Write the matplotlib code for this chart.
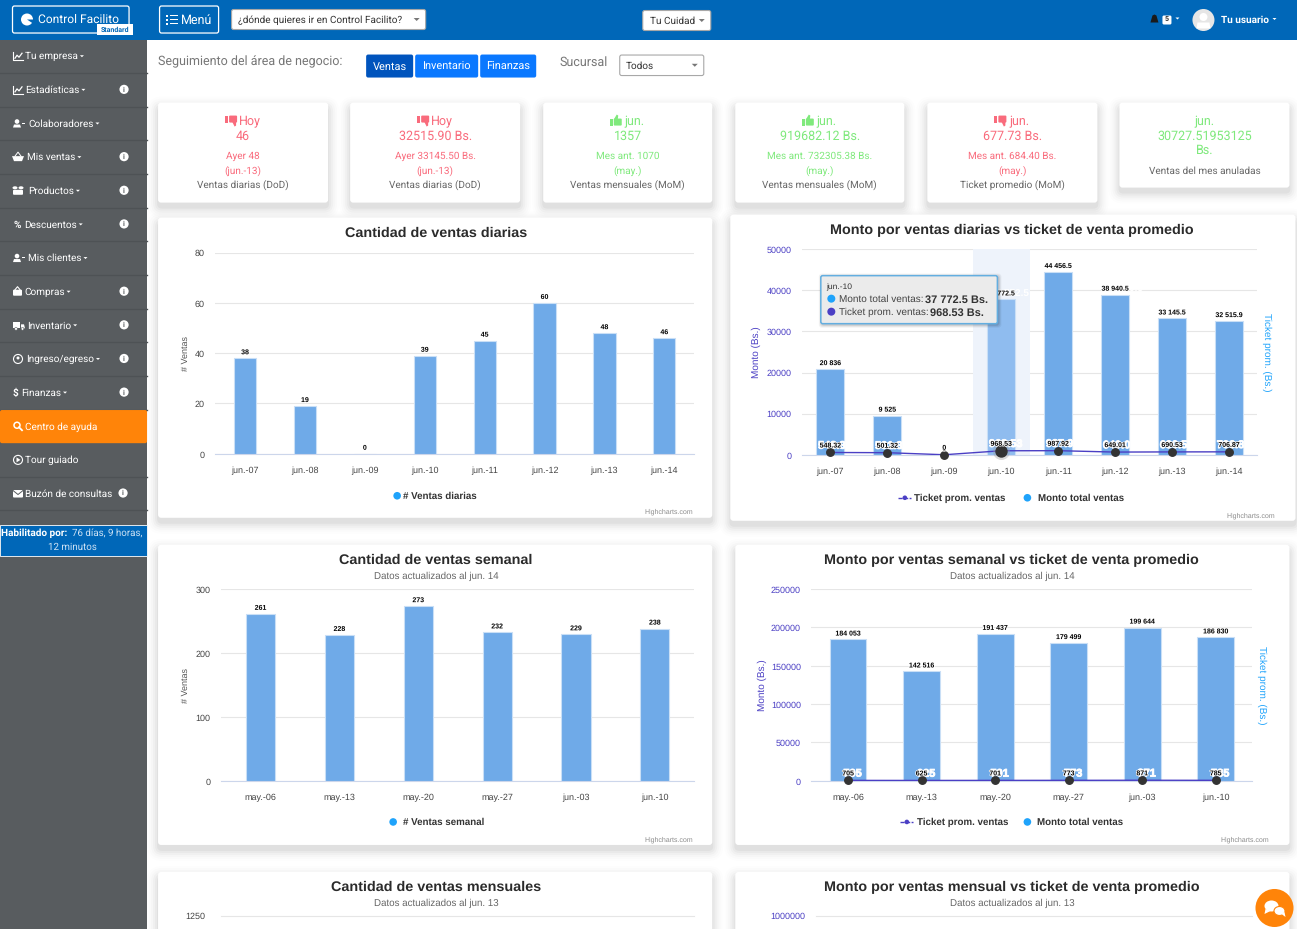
#! /usr/bin/env python3
#
# Sales dashboard screenshot rebuilt with matplotlib.
# Everything is placed in screen pixels: one overlay axes for the page,
# real axes for the charts.

import matplotlib
matplotlib.use('agg')
import matplotlib.pyplot as plt
import matplotlib.patheffects as pe
from matplotlib.patches import Rectangle, FancyBboxPatch, Circle, Polygon, Ellipse

W, H = 1297, 929

###########
## Data  ##
###########

days = ['jun.-07', 'jun.-08', 'jun.-09', 'jun.-10', 'jun.-11', 'jun.-12', 'jun.-13', 'jun.-14']
daily_count = [38, 19, 0, 39, 45, 60, 48, 46]
daily_amount = [20836, 9525, 0, 37772.5, 44456.5, 38940.5, 33145.5, 32515.9]
daily_ticket = [548.32, 501.32, 0, 968.53, 987.92, 649.01, 690.53, 706.87]

weeks = ['may.-06', 'may.-13', 'may.-20', 'may.-27', 'jun.-03', 'jun.-10']
weekly_count = [261, 228, 273, 232, 229, 238]
weekly_amount = [184053, 142516, 191437, 179499, 199644, 186830]
weekly_ticket = [705, 625, 701, 773, 871, 785]

menu_items = ['Tu empresa', 'Estadísticas', 'Colaboradores', 'Mis ventas', 'Productos', 'Descuentos',
              'Mis clientes', 'Compras', 'Inventario', 'Ingreso/egreso', 'Finanzas',
              'Centro de ayuda', 'Tour guiado', 'Buzón de consultas']
menu_info = [False, True, False, True, True, True, False, True, True, True, True, False, False, True]
menu_text_x = [25, 25, 28, 27, 28, 24, 28, 24, 27, 26, 21, 25, 25, 25]

kpi_heads = ['Hoy', 'Hoy', 'jun.', 'jun.', 'jun.', 'jun.']
kpi_values = ['46', '32515.90 Bs.', '1357', '919682.12 Bs.', '677.73 Bs.', '30727.51953125']
kpi_prev = ['Ayer 48', 'Ayer 33145.50 Bs.', 'Mes ant. 1070', 'Mes ant. 732305.38 Bs.', 'Mes ant. 684.40 Bs.', '']
kpi_when = ['(jun.-13)', '(jun.-13)', '(may.)', '(may.)', '(may.)', '']
kpi_names = ['Ventas diarias (DoD)', 'Ventas diarias (DoD)', 'Ventas mensuales (MoM)',
             'Ventas mensuales (MoM)', 'Ticket promedio (MoM)', 'Ventas del mes anuladas']
kpi_good = [False, False, True, True, False, None]

##############
## Settings ##
##############

BLUE_TOP = '#0067B8'
SIDE = '#585C5F'
SIDE_LINE = '#4E5255'
ORANGE = '#FF8409'
RED = '#F96B7C'
GREEN = '#7FE97C'
BAR = '#6FAAE8'
BAR_EDGE = '#C9DFF6'
PURPLE = '#4B3FC4'
LIGHTBLUE = '#1FA3FB'
UI = 'Roboto'
HC = 'Liberation Sans'

plt.rcParams['font.family'] = [HC, 'DejaVu Sans']
plt.rcParams['text.hinting'] = 'no_hinting'
plt.rcParams['text.hinting_factor'] = 8

# the extra half pixel stops the height being rounded down to 928
fig = plt.figure(figsize=((W + 0.5) / 100, (H + 0.5) / 100), dpi=100, facecolor='white')


def px(size):
    # css pixels to points
    return size * 72.0 / 100.0


def overlay(z):
    a = fig.add_axes([0, 0, 1, 1], zorder=z)
    a.set_xlim(0, W)
    a.set_ylim(H, 0)
    a.axis('off')
    a.patch.set_alpha(0)
    return a


page = overlay(0)
top = overlay(10)


def rect(a, x0, y0, x1, y1, fc, ec='none', lw=0, z=2):
    a.add_patch(Rectangle((x0, y0), x1 - x0, y1 - y0, fc=fc, ec=ec, lw=lw, zorder=z))


def rrect(a, x0, y0, x1, y1, fc, ec='none', lw=0, r=3, z=2):
    a.add_patch(FancyBboxPatch((x0 + r, y0 + r), x1 - x0 - 2 * r, y1 - y0 - 2 * r,
                               boxstyle='round,pad=%g,rounding_size=%g' % (r, r),
                               fc=fc, ec=ec, lw=lw, zorder=z))


def label(a, x, y, s, size, color='#333333', ha='left', weight='normal', family=UI, z=6, **kw):
    return a.text(x, y, s, fontsize=px(size), color=color, ha=ha, va='center', weight=weight,
                  family=[family, 'DejaVu Sans'], zorder=z, **kw)


def card(a, x0, y0, x1, y1):
    # soft drop shadow, then the white card
    for grow, alpha in ((11, 0.008), (9, 0.012), (7, 0.016), (5, 0.022), (3, 0.028), (1, 0.036)):
        rrect(a, x0 - grow, y0 + 5 - grow, x1 + grow, y1 + 5 + grow, (0, 0, 0, alpha), r=4 + grow, z=1)
    rrect(a, x0, y0, x1, y1, 'white', r=3, z=2)


def select(a, x0, y0, x1, y1, s, size=10, pad=6.5):
    rrect(a, x0, y0, x1, y1, 'white', ec='#A8A8A8', lw=0.8, r=2, z=3)
    label(a, x0 + pad, (y0 + y1) / 2 + 0.5, s, size, '#333333')
    a.add_patch(Polygon([(x1 - 12, (y0 + y1) / 2 - 1.5), (x1 - 6, (y0 + y1) / 2 - 1.5), (x1 - 9, (y0 + y1) / 2 + 1.5)],
                        fc='#777777', zorder=6))


def caret(a, x, y, color='white'):
    a.add_patch(Polygon([(x, y - 1), (x + 4, y - 1), (x + 2, y + 1)], fc=color, zorder=6))


def thumb(a, x, y, up, color):
    # small hand icon centred near x, y
    if up:
        rect(a, x - 6, y - 2, x - 3, y + 5, color, z=6)
        rrect(a, x - 2, y - 2, x + 6, y + 5, color, r=1, z=6)
        a.add_patch(Polygon([(x - 2, y - 1), (x + 1, y - 6), (x + 2.5, y - 5), (x + 2, y - 1)], fc=color, zorder=6))
    else:
        rect(a, x - 6, y - 5, x - 3, y + 2, color, z=6)
        rrect(a, x - 2, y - 5, x + 6, y + 2, color, r=1, z=6)
        a.add_patch(Polygon([(x + 1, y + 1), (x + 3.5, y + 6), (x + 5, y + 5), (x + 5, y + 1)], fc=color, zorder=6))


def menu_icon(a, idx, x, y):
    # crude white glyphs for the sidebar, 10 px wide
    w = 'white'
    if idx in (0, 1):
        a.plot([x, x, x + 10], [y - 4, y + 4, y + 4], color=w, lw=0.8, zorder=6)
        a.plot([x + 2, x + 4, x + 6, x + 9], [y + 2, y - 1, y + 1, y - 3], color=w, lw=0.9, zorder=6)
    elif idx in (2, 6):
        a.add_patch(Circle((x + 4, y - 2), 2.3, fc=w, zorder=6))
        a.add_patch(Polygon([(x, y + 4), (x + 1, y + 1), (x + 7, y + 1), (x + 8, y + 4)], fc=w, zorder=6))
        rect(a, x + 9, y - 1, x + 12, y + 0, w, z=6)
    elif idx == 3:
        a.add_patch(Polygon([(x - 1, y - 1), (x + 11, y - 1), (x + 9, y + 4), (x + 1, y + 4)], fc=w, zorder=6))
        a.plot([x + 2, x + 5, x + 8], [y - 1, y - 5, y - 1], color=w, lw=0.7, zorder=6)
    elif idx == 4:
        rrect(a, x, y - 1, x + 10, y + 4, w, r=1, z=6)
        a.add_patch(Ellipse((x + 2, y - 3), 5, 3, fc=w, zorder=6))
        a.add_patch(Ellipse((x + 8, y - 3), 5, 3, fc=w, zorder=6))
    elif idx == 5:
        label(a, x + 4, y, '%', 10, w, ha='center', weight='bold')
    elif idx == 7:
        rrect(a, x, y - 2, x + 9, y + 4, w, r=1, z=6)
        a.plot([x + 2, x + 4.5, x + 7], [y - 2, y - 5, y - 2], color=w, lw=0.8, zorder=6)
    elif idx == 8:
        rect(a, x, y - 3, x + 7, y + 3, w, z=6)
        a.add_patch(Polygon([(x + 8, y - 1), (x + 11, y - 1), (x + 12, y + 3), (x + 8, y + 3)], fc=w, zorder=6))
        a.add_patch(Circle((x + 3, y + 3.5), 1.4, fc=w, ec=SIDE, lw=0.4, zorder=7))
        a.add_patch(Circle((x + 9.5, y + 3.5), 1.4, fc=w, ec=SIDE, lw=0.4, zorder=7))
    elif idx == 10:
        label(a, x + 2, y, '$', 10, w, ha='center', weight='bold')
    elif idx == 11:
        a.add_patch(Circle((x + 4, y - 1), 3, fc='none', ec=w, lw=1.1, zorder=6))
        a.plot([x + 6, x + 9], [y + 1, y + 4], color=w, lw=1.3, zorder=6)
    elif idx in (9, 12):
        a.add_patch(Circle((x + 5, y), 4.5, fc='none', ec=w, lw=0.8, zorder=6))
        if idx == 12:
            a.add_patch(Polygon([(x + 3.5, y - 2.5), (x + 3.5, y + 2.5), (x + 7.5, y)], fc=w, zorder=6))
        else:
            a.add_patch(Circle((x + 5, y - 1), 1.5, fc=w, zorder=6))
    else:
        rrect(a, x, y - 3.5, x + 10, y + 4, w, r=1, z=6)
        a.plot([x, x + 5, x + 10], [y - 3, y + 1, y - 3], color=SIDE, lw=0.7, zorder=7)


def text_right(t):
    # right edge of a text in page pixels
    bb = t.get_window_extent(fig.canvas.get_renderer())
    return bb.x1 * W / fig.bbox.width


##########
## Page ##
##########

# top bar
rect(page, 0, 0, W, 40, BLUE_TOP)
rrect(page, 12.5, 6.5, 129, 33.5, 'none', ec='white', lw=0.9, r=2, z=3)
page.add_patch(Circle((27, 20), 6, fc='white', zorder=4))
page.add_patch(Polygon([(27, 20), (34, 20), (33, 24)], fc=BLUE_TOP, zorder=5))
label(page, 38, 20, 'Control Facilito', 12, 'white')
rect(page, 97, 24, 133, 35, 'white', z=5)
label(page, 115, 30, 'Standard', 7, BLUE_TOP, ha='center', weight='bold', z=7)
rrect(page, 159.5, 6.5, 218.5, 33.5, 'none', ec='white', lw=0.9, r=2, z=3)
for yy in (16, 20, 24):
    rect(page, 166, yy - 1, 168, yy + 1, 'white', z=5)
    rect(page, 170, yy - 0.7, 178, yy + 0.7, 'white', z=5)
label(page, 181, 20, 'Menú', 12.5, 'white')
select(page, 231.5, 10, 425.5, 30, '¿dónde quieres ir en Control Facilito?')
select(page, 642.5, 11, 710.5, 31, 'Tu Cuidad', pad=7.5)
page.add_patch(Polygon([(1150, 23), (1152, 16), (1154, 15), (1156, 16), (1158, 23)], fc='#1A1A1A', zorder=5))
rrect(page, 1162, 16, 1171, 25, 'white', r=1.5, z=5)
label(page, 1166.5, 20.5, '5', 7, '#333333', ha='center', weight='bold')
caret(page, 1175, 19)
page.add_patch(Circle((1203, 20.5), 11, fc='#E6E6E6', zorder=4))
page.add_patch(Circle((1203, 17.5), 4, fc='white', zorder=5))
page.add_patch(Polygon([(1196, 29), (1197, 23), (1209, 23), (1210, 29)], fc='white', zorder=5))
label(page, 1221, 20, 'Tu usuario', 10, 'white', weight='bold')
caret(page, 1272, 19.5)

# sidebar
rect(page, 0, 40, 147, H + 1, SIDE)
row_h = 33.62
for i, name in enumerate(menu_items):
    y0 = 40 + i * row_h
    yc = y0 + 16.7
    if i == 11:
        rrect(page, 0, y0 + 0.5, 147, y0 + row_h, ORANGE, r=2, z=3)
    else:
        page.plot([0, 147], [y0 + row_h, y0 + row_h], color=SIDE_LINE, lw=1, zorder=3)
    menu_icon(page, i, 13, yc)
    t = label(page, menu_text_x[i], yc, name, 10, 'white')
    if i < 11:
        caret(page, text_right(t) + 2, yc)
    if menu_info[i]:
        ix = 123 if i == 13 else 124
        page.add_patch(Circle((ix, yc - 0.5), 4.6, fc='white', zorder=6))
        label(page, ix, yc - 0.5, 'i', 7, SIDE, ha='center', weight='bold', z=7)
rect(page, 0, 525, 147, 556, BLUE_TOP, ec='white', lw=0.6, z=3)
label(page, 1, 533, 'Habilitado por:', 10, 'white', weight='bold')
label(page, 72, 533, '76 días, 9 horas,', 9.8, '#CFE3F5')
label(page, 72, 547, '12 minutos', 9.8, '#CFE3F5', ha='center')

# filter row
label(page, 158, 62, 'Seguimiento del área de negocio:', 12.5, '#777777')
for x0, x1, s, c in ((366, 413, 'Ventas', '#0054BD'), (415, 478, 'Inventario', '#0A78FF'), (480, 536, 'Finanzas', '#0A78FF')):
    rrect(page, x0, 55, x1, 78, c, r=2, z=3)
    label(page, (x0 + x1) / 2, 66.5, s, 11, 'white', ha='center')
label(page, 559, 62, 'Sucursal', 12.5, '#777777')
select(page, 619.5, 55.5, 703.5, 76, 'Todos')

# kpi cards
kpi_x = [(158, 328), (350, 520), (543, 712), (735, 904), (927, 1097), (1119, 1289)]
for i, (x0, x1) in enumerate(kpi_x):
    good = kpi_good[i]
    col = GREEN if good in (True, None) else RED
    xc = (x0 + x1) / 2
    y1 = 188 if good is None else 203
    card(page, x0, 103, x1, y1)
    if good is None:
        label(page, xc, 122, kpi_heads[i], 12.5, col, ha='center')
        label(page, xc, 136, kpi_values[i], 12.5, col, ha='center')
        label(page, xc, 150, 'Bs.', 12.5, col, ha='center')
        label(page, xc, 171, kpi_names[i], 10, '#666666', ha='center')
        continue
    label(page, xc + 7, 122, kpi_heads[i], 12.5, col, ha='center')
    thumb(page, xc - 12, 121, good, col)
    label(page, xc, 136, kpi_values[i], 12.5, col, ha='center')
    label(page, xc, 156, kpi_prev[i], 10, col, ha='center')
    label(page, xc, 171, kpi_when[i], 10, col, ha='center')
    label(page, xc, 185, kpi_names[i], 10, '#666666', ha='center')

# chart cards
card(page, 158, 218, 712, 518)
card(page, 730, 215, 1295, 521)
card(page, 158, 545, 712, 845)
card(page, 735, 545, 1289, 845)
card(page, 158, 872, 712, 960)
card(page, 735, 872, 1289, 960)

############
## Charts ##
############


def fmt(v):
    return '{:,.10g}'.format(v).replace(',', ' ')


def chart_axes(left, right, ytop, ybottom, ymax, yticks, cats, tick_color='#444444'):
    a = fig.add_axes([left / W, 1 - ybottom / H, (right - left) / W, (ybottom - ytop) / H], zorder=5)
    a.patch.set_alpha(0)
    a.set_xlim(-0.5, len(cats) - 0.5)
    a.set_ylim(0, ymax)
    a.set_xticks(range(len(cats)), cats)
    a.set_yticks(yticks)
    a.tick_params(axis='both', length=0)
    a.tick_params(axis='x', labelsize=px(9), labelcolor='#444444', pad=px(12))
    a.tick_params(axis='y', labelsize=px(9), labelcolor=tick_color, pad=px(10.5))
    a.grid(axis='y', color='#E6E6E6', lw=0.8)
    a.set_axisbelow(True)
    for k in ('top', 'left', 'right'):
        a.spines[k].set_visible(False)
    a.spines['bottom'].set_color('#CCD6EB')
    return a


def bars(a, values, width, highlight=None):
    bs = a.bar(range(len(values)), values, width=width, color=BAR, edgecolor=BAR_EDGE, linewidth=0.8, zorder=3)
    if highlight is not None:
        bs[highlight].set_facecolor('#8FBCEF')
    return bs


def bar_labels(a, values, dy=2.5, ghost=0, size=7):
    for i, v in enumerate(values):
        if ghost:
            a.annotate(fmt(v), (i, v), xytext=(px(ghost), px(dy - 1.2)), textcoords='offset points', ha='center', va='bottom',
                       fontsize=px(10), weight='bold', color='white', zorder=4)
        a.annotate(fmt(v), (i, v), xytext=(0, px(dy)), textcoords='offset points', ha='center', va='bottom',
                   fontsize=px(size), weight='bold', color='black', zorder=7,
                   path_effects=[pe.withStroke(linewidth=1.2, foreground='white')])


def ticket_line(a, values, dy=3.5, ghost=4.5, big=None):
    a.plot(range(len(values)), values, color=PURPLE, lw=1.0, zorder=5)
    a.plot(range(len(values)), values, ls='none', marker='o', ms=px(7.5), mfc='#333333', mec='#333333', zorder=6, clip_on=False)
    for i, v in enumerate(values):
        a.annotate(fmt(v), (i, v), xytext=(px(ghost), px(dy - 2)), textcoords='offset points', ha='center', va='bottom',
                   fontsize=px(11), weight='bold', color='white', zorder=5,
                   path_effects=[pe.withStroke(linewidth=0.6, foreground='white')])
        a.annotate(fmt(v), (i, v), xytext=(0, px(dy)), textcoords='offset points', ha='center', va='bottom',
                   fontsize=px(7), weight='bold', color='black', zorder=7,
                   path_effects=[pe.withStroke(linewidth=1.0, foreground='white')])
    if big is not None:
        a.plot([big], [values[big]], ls='none', marker='o', ms=px(17), mfc='#999999', mec='none', alpha=0.35, zorder=6, clip_on=False)
        a.plot([big], [values[big]], ls='none', marker='o', ms=px(11), mfc='#333333', mec='#333333', zorder=6, clip_on=False)


def titles(xc, y, title, sub=None):
    label(page, xc, y + 1, title, 14.4, '#2B2B2B', ha='center', weight='bold', family=HC)
    if sub:
        label(page, xc, y + 17, sub, 9.8, '#666666', ha='center', family=HC)


def legend_dot(x, y, s, tx):
    page.add_patch(Circle((x, y), 3.8, fc=LIGHTBLUE, zorder=6))
    label(page, tx, y, s, 9.8, '#333333', weight='bold', family=HC)


def legend_line(x0, x1, y, s, tx):
    page.plot([x0, x1], [y, y], color=PURPLE, lw=1.0, ls=(0, (3, 1)), zorder=6)
    page.add_patch(Circle(((x0 + x1) / 2, y), 2.3, fc=PURPLE, zorder=7))
    label(page, tx, y, s, 9.8, '#333333', weight='bold', family=HC)


def credit(xr, y):
    label(page, xr, y, 'Highcharts.com', 7, '#8C8C8C', ha='right', family=HC)


def ytitle(x, y, s, color='#555555', rot=90, size=9):
    label(page, x, y, s, size, color, ha='center', rotation=rot, rotation_mode='anchor', family=HC)


# daily count
titles(436, 232, 'Cantidad de ventas diarias')
ax1 = chart_axes(215, 694, 253, 454, 80, [0, 20, 40, 60, 80], days)
bars(ax1, daily_count, 0.37)
bar_labels(ax1, daily_count)
ytitle(186, 353, '# Ventas')
legend_dot(397, 496, '# Ventas diarias', 403)
credit(693, 511)

# daily amount + ticket
titles(1011.5, 229, 'Monto por ventas diarias vs ticket de venta promedio')
ax2 = chart_axes(801.6, 1257, 249.5, 455, 50000, [0, 10000, 20000, 30000, 40000, 50000], days, PURPLE)
ax2.axvspan(2.5, 3.5, color='#EEF3FB', zorder=1, lw=0)
bars(ax2, daily_amount, 0.49, highlight=3)
bar_labels(ax2, daily_amount, ghost=8)
ticket_line(ax2, daily_ticket, big=3)
ytitle(756.5, 352, 'Monto (Bs.)', PURPLE, size=10)
ytitle(1266, 352, 'Ticket prom. (Bs.)', LIGHTBLUE, rot=270, size=10)
legend_line(898, 911, 498, 'Ticket prom. ventas', 914)
legend_dot(1027, 498, 'Monto total ventas', 1038)
credit(1275, 515)

# weekly count
titles(436, 559, 'Cantidad de ventas semanal', 'Datos actualizados al jun. 14')
ax3 = chart_axes(221, 694, 589, 781, 300, [0, 100, 200, 300], weeks)
bars(ax3, weekly_count, 0.37)
bar_labels(ax3, weekly_count)
ytitle(186, 685, '# Ventas')
legend_dot(393, 822, '# Ventas semanal', 403)
credit(693, 839)

# weekly amount + ticket
titles(1011.5, 559, 'Monto por ventas semanal vs ticket de venta promedio', 'Datos actualizados al jun. 14')
ax4 = chart_axes(811, 1252, 589, 781, 250000, [0, 50000, 100000, 150000, 200000, 250000], weeks, PURPLE)
bars(ax4, weekly_amount, 0.5)
bar_labels(ax4, weekly_amount)
ticket_line(ax4, weekly_ticket)
ytitle(762.5, 685, 'Monto (Bs.)', PURPLE, size=10)
ytitle(1261.5, 685, 'Ticket prom. (Bs.)', LIGHTBLUE, rot=270, size=10)
legend_line(900, 913, 822, 'Ticket prom. ventas', 917)
legend_dot(1027, 822, 'Monto total ventas', 1037)
credit(1269, 839)

# the two charts cut off by the bottom of the screenshot
titles(436, 886, 'Cantidad de ventas mensuales', 'Datos actualizados al jun. 13')
page.plot([221, 694], [916, 916], color='#E6E6E6', lw=0.8, zorder=3)
label(page, 205, 916, '1250', 9, '#444444', ha='right', family=HC)
titles(1011.5, 886, 'Monto por ventas mensual vs ticket de venta promedio', 'Datos actualizados al jun. 13')
page.plot([816, 1252], [916, 916], color='#E6E6E6', lw=0.8, zorder=3)
label(page, 805, 916, '1000000', 9, PURPLE, ha='right', family=HC)

# tooltip over the second chart
for grow, alpha in ((3, 0.05), (2, 0.07), (1, 0.09)):
    rrect(top, 820.5 - grow + 1, 276 - grow + 1, 997 + grow + 1, 324 + grow + 1, (0, 0, 0, alpha), r=3, z=1)
rrect(top, 820.5, 276, 997, 324, '#EBEBEB', ec='#63AEE0', lw=1.1, r=2, z=2)
label(top, 826, 287, days[3], 8.5, '#333333', family=HC)
top.add_patch(Circle((831, 299), 4, fc=LIGHTBLUE, zorder=6))
top.add_patch(Circle((831, 312), 4, fc=PURPLE, zorder=6))
label(top, 839, 299.5, 'Monto total ventas:', 10, '#444444', family=HC)
label(top, 925, 299.5, fmt(daily_amount[3]) + ' Bs.', 11, '#333333', weight='bold', family=HC)
label(top, 839, 312.5, 'Ticket prom. ventas:', 10, '#444444', family=HC)
label(top, 929.5, 312.5, fmt(daily_ticket[3]) + ' Bs.', 11, '#333333', weight='bold', family=HC)

# chat bubble
top.add_patch(Circle((1274, 908), 19, fc=ORANGE, zorder=3))
top.add_patch(Ellipse((1271, 906), 14, 11, fc='white', zorder=4))
top.add_patch(Polygon([(1265, 909), (1264, 914), (1270, 911)], fc='white', zorder=4))
top.add_patch(Ellipse((1279, 911), 11, 9, fc='white', ec=ORANGE, lw=0.8, zorder=5))
top.add_patch(Polygon([(1281, 914), (1285, 917), (1284, 912)], fc='white', zorder=5))

fig.savefig('out.png', dpi=100, facecolor='white')
